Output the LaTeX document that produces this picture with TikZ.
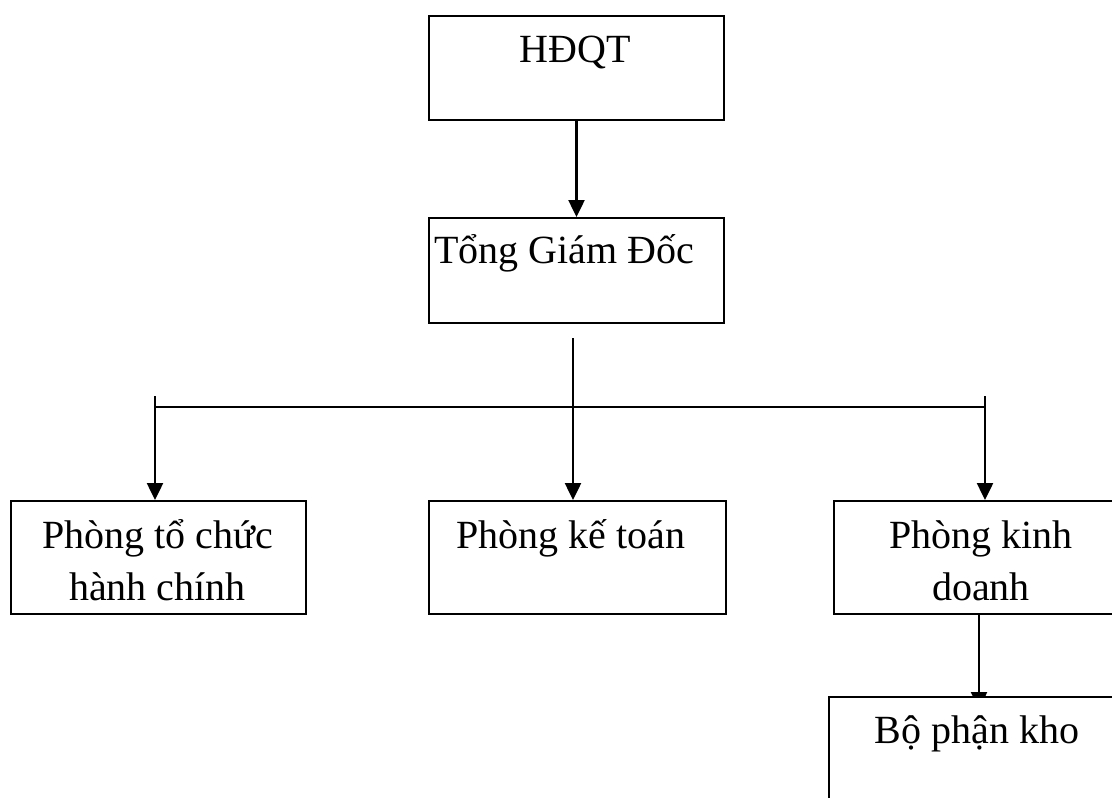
\documentclass[tikz,border=0pt]{standalone}
\usepackage{fontspec}
\setmainfont{Liberation Serif}
\usetikzlibrary{arrows.meta}
\begin{document}
\begin{tikzpicture}[x=1pt,y=-1pt,
  box/.style={draw=black, line width=2pt, rectangle, inner sep=0pt, anchor=north west},
  lbl/.style={font=\fontsize{40}{52}\selectfont, inner sep=0pt, anchor=base, align=center},
  arr/.style={line width=2.5pt, -{Triangle[width=16pt,length=17pt]}},
  bus/.style={line width=1.5pt}]
\clip (0,0) rectangle (1112,798);
\fill[white] (0,0) rectangle (1112,798);
% boxes
\node[box, minimum width=295pt, minimum height=104pt] (hdqt) at (428,15) {};
\node[box, minimum width=295pt, minimum height=105pt] (tgd) at (428,217) {};
\node[box, minimum width=295pt, minimum height=113pt] (tc) at (10,500) {};
\node[box, minimum width=297pt, minimum height=113pt] (kt) at (428,500) {};
\node[box, minimum width=296pt, minimum height=113pt] (kd) at (833,500) {};
\node[box, draw=none, minimum width=296pt, minimum height=160pt] (kho) at (829,697) {};
% connectors
\draw[arr] (hdqt.south) -- (tgd.north);
\coordinate (m) at (573,338);
\coordinate (l) at (155,396);
\coordinate (r) at (985,396);
\coordinate (k) at (979,613);
\draw[bus] (l |- 0,407) -- (r |- 0,407);
\draw[arr] (m) -- (m |- kt.north);
\draw[arr] (l) -- (l |- tc.north);
\draw[arr] (r) -- (r |- kd.north);
\draw[arr] (k) -- ([yshift=-12pt]k |- kho.north);
% kho box drawn over the arrow tip
\draw[line width=2pt, fill=white] (kho.north west) rectangle (kho.south east);
% labels
\node[lbl] (hdqtT) at (575.5,62) {HĐQT};
\node[lbl] (tgdT) at (564,263) {Tổng Giám Đốc};
\node[lbl] (tcT) at (157.5,600) {Phòng tổ chức\\hành chính};
\node[lbl] (ktT) at (571,548) {Phòng kế toán};
\node[lbl] (kdT) at (981,600) {Phòng kinh\\doanh};
\node[lbl] (khoT) at (977,743) {Bộ phận kho};
\end{tikzpicture}
\end{document}
